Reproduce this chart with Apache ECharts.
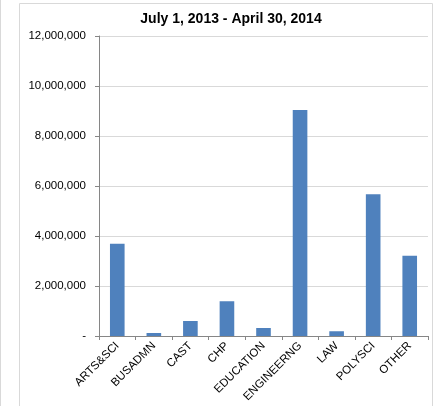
<!DOCTYPE html>
<html>
<head>
<meta charset="utf-8">
<script src="https://cdn.jsdelivr.net/npm/echarts@6/dist/echarts.min.js"></script>
<style>
  html, body { margin: 0; padding: 0; background: #fff; }
  #chart { width: 437px; height: 406px; }
</style>
</head>
<body>
<div id="chart"></div>
<script>
  // data
  var titleText = 'July 1, 2013 - April 30, 2014'
  var categories = ['ARTS&SCI', 'BUSADMN', 'CAST', 'CHP', 'EDUCATION', 'ENGINEERNG', 'LAW', 'POLYSCI', 'OTHER']
  var values = [3690000, 120000, 600000, 1390000, 320000, 9040000, 190000, 5670000, 3210000]
  var yTicks = [0, 2000000, 4000000, 6000000, 8000000, 10000000, 12000000]

  var chart = echarts.init(document.getElementById('chart'))
  var font = 'Liberation Sans, Arial, sans-serif'

  chart.setOption({
    animation: false,
    title: {
      text: titleText,
      left: 226,
      top: 7,
      textAlign: 'center',
      textStyle: { fontFamily: font, fontSize: 14, fontWeight: 'bold', color: '#000' }
    },
    grid: { left: 99, right: 9, top: 36, bottom: 70 },
    xAxis: {
      type: 'category',
      data: categories,
      axisLine: { lineStyle: { color: '#868686', width: 1 } },
      axisTick: { show: true, length: 4, lineStyle: { color: '#868686' } },
      axisLabel: {
        rotate: 45,
        margin: 8,
        fontFamily: font,
        fontSize: 11.5,
        color: '#000'
      }
    },
    yAxis: {
      type: 'value',
      min: yTicks[0],
      max: yTicks[yTicks.length - 1],
      interval: yTicks[1] - yTicks[0],
      axisLine: { show: true, lineStyle: { color: '#868686', width: 1 } },
      axisTick: { show: true, length: 4, lineStyle: { color: '#868686' } },
      splitLine: { lineStyle: { color: '#d9d9d9', width: 1 } },
      axisLabel: {
        margin: 13,
        fontFamily: font,
        fontSize: 11.5,
        color: '#000',
        formatter: function (v) {
          return v === 0 ? '-' : v.toLocaleString('en-US')
        }
      }
    },
    series: [{
      type: 'bar',
      data: values,
      barWidth: '40%',
      itemStyle: { color: '#4f81bd' }
    }],
    graphic: [
      {
        type: 'rect',
        shape: { x: 19.5, y: 3.5, width: 413, height: 410 },
        style: { fill: null, stroke: '#d9d9d9', lineWidth: 1 },
        silent: true
      },
      {
        type: 'line',
        shape: { x1: 0.5, y1: 0, x2: 0.5, y2: 406 },
        style: { stroke: '#d9d9d9', lineWidth: 1 },
        silent: true
      }
    ]
  })
</script>
</body>
</html>
